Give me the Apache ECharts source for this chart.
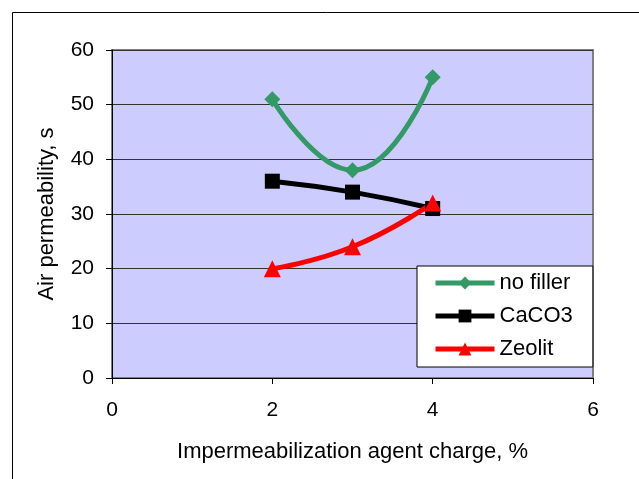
<!DOCTYPE html>
<html>
<head>
<meta charset="utf-8">
<script src="https://cdn.jsdelivr.net/npm/echarts@6/dist/echarts.min.js"></script>
<style>
  html, body { margin: 0; padding: 0; background: #fff; }
  #chart { width: 639px; height: 479px; }
</style>
</head>
<body>
<div id="chart"></div>
<script>
// data
var charge = [2, 3, 4];
var noFiller = [51, 38, 55];
var caco3 = [36, 34, 31];
var zeolit = [20, 24, 32];
var seriesNames = ['no filler', 'CaCO3', 'Zeolit'];

function pairs(ys) {
  return charge.map(function (x, i) { return [x, ys[i]]; });
}

var font = 'Liberation Sans, Arial, sans-serif';
var myChart = echarts.init(document.getElementById('chart'));

var option = {
  animation: false,
  backgroundColor: '#fff',
  graphic: [{
    type: 'rect',
    shape: { x: 12.5, y: 12.5, width: 700, height: 600 },
    style: { fill: 'none', stroke: '#000', lineWidth: 1 },
    z: -1
  }],
  grid: {
    left: 112, top: 50, width: 481, height: 328,
    show: true, backgroundColor: '#CCCCFF',
    borderColor: '#808080', borderWidth: 2
  },
  legend: {
    orient: 'vertical',
    left: 417, top: 266,
    padding: [6, 20, 7, 16],
    backgroundColor: '#fff',
    borderColor: '#000', borderWidth: 1,
    itemWidth: 59, itemHeight: 16, itemGap: 11,
    lineStyle: { width: 5 },
    textStyle: { fontFamily: font, fontSize: 22, color: '#000' },
    data: seriesNames
  },
  xAxis: {
    type: 'value', min: 0, max: 6, interval: 2,
    name: 'Impermeabilization agent charge, %',
    nameLocation: 'middle', nameGap: 63,
    nameTextStyle: { fontFamily: font, fontSize: 22, color: '#000' },
    axisLine: { show: true, lineStyle: { color: '#000', width: 1 } },
    axisTick: { show: true, length: 6, lineStyle: { color: '#000' } },
    axisLabel: { fontFamily: font, fontSize: 21, color: '#000', margin: 22 },
    splitLine: { show: false }
  },
  yAxis: {
    type: 'value', min: 0, max: 60, interval: 10,
    name: 'Air permeability, s',
    nameLocation: 'middle', nameGap: 54,
    nameTextStyle: { fontFamily: font, fontSize: 22, color: '#000' },
    axisLine: { show: true, lineStyle: { color: '#000', width: 1 } },
    axisTick: { show: true, length: 6, lineStyle: { color: '#000' } },
    axisLabel: { fontFamily: font, fontSize: 21, color: '#000', margin: 18 },
    splitLine: { show: true, lineStyle: { color: '#333', width: 1 } }
  },
  series: [
    {
      name: 'no filler', type: 'line', smooth: 0.5,
      data: pairs(noFiller),
      color: '#339966',
      lineStyle: { width: 5 },
      symbol: 'diamond', symbolSize: 16
    },
    {
      name: 'CaCO3', type: 'line', smooth: 0.5,
      data: pairs(caco3),
      color: '#000',
      lineStyle: { width: 5 },
      symbol: 'rect', symbolSize: 15
    },
    {
      name: 'Zeolit', type: 'line', smooth: 0.5,
      data: pairs(zeolit),
      color: '#FF0000',
      lineStyle: { width: 5 },
      symbol: 'triangle', symbolSize: 17
    }
  ]
};

myChart.setOption(option);
</script>
</body>
</html>
